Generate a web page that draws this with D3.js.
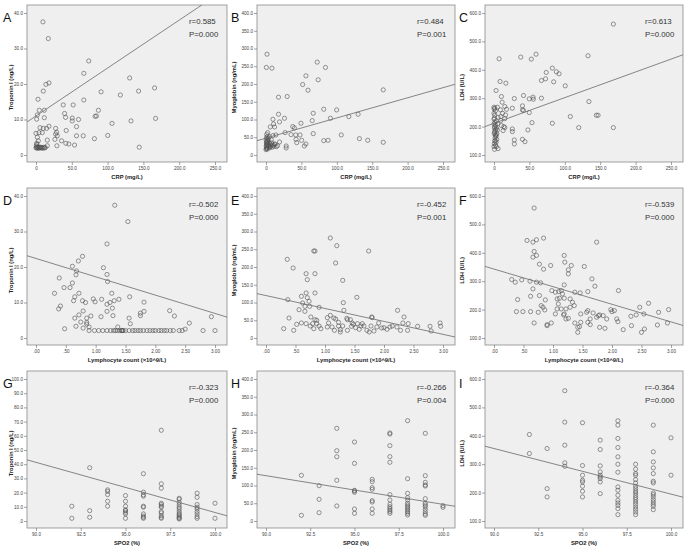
<!DOCTYPE html>
<html>
<head>
<meta charset="utf-8">
<script src="https://cdn.jsdelivr.net/npm/d3@7"></script>
<style>
  body { margin: 0; background: #fff; }
  svg { display: block; font-family: "Liberation Sans", Arial, sans-serif; }
</style>
</head>
<body>
<div id="chart"></div>
<script>
/**
 * DATA
 * */
// CRP vs Troponin I
const crpTrop = [[9.7,37.5],[17.2,32.8],[73.7,26.5],[66.8,23.0],[130.8,21.7],[18.1,20.3],[13.9,19.9],[10.2,18.0],[90.9,17.8],[143.3,18.0],[117.8,16.9],[165.6,18.9],[2.8,15.7],[66.8,15.5],[38.0,14.1],[51.9,14.1],[4.6,12.6],[11.6,12.6],[87.2,12.6],[39.9,11.7],[1.9,11.3],[0.9,10.1],[11.6,10.5],[41.3,10.6],[50.6,10.4],[50.6,9.6],[59.4,10.0],[82.6,10.9],[84.4,11.0],[167,10.3],[106.2,8.9],[132.7,9.6],[5.6,7.7],[10.2,7.5],[14.8,7.5],[18.1,8.1],[56.6,8.0],[27.4,7.5],[0,6.1],[4.2,6.3],[8.8,6.3],[42.2,6.9],[28.8,6.4],[29.7,5.4],[27.4,5.9],[56.6,5.4],[65.9,5.4],[100.2,5.5],[3.2,4.0],[15.8,4.2],[26.4,4.4],[35.7,4.0],[41.7,3.3],[45.9,3.1],[81.6,4.6],[15.8,2.6],[29.2,2.6],[53.8,2.8],[144.2,2.2],[1,3.3],[1.9,5.0],[0,2.0],[0.8,2.2],[1.5,1.9],[2.2,2.3],[3,2.0],[3.8,2.2],[4.6,1.9],[5.5,2.1],[6.5,2.2],[7.4,2.0],[8.5,2.1],[9.6,1.9],[10.8,2.2],[12,2.0],[13,2.1],[0.4,2.6],[1.2,3.0]];
// CRP vs Myoglobin
const crpMyo = [[1.4,284],[0.5,246.6],[8.4,244.7],[72.3,261.6],[84,246.6],[56.4,223],[73.7,211.8],[51.8,198.6],[59.3,182.6],[165.6,183.5],[17.7,162.8],[29.9,164.7],[81.6,128.9],[99.8,127],[66.7,117.6],[17.7,114.8],[130.1,114.8],[26.1,103.5],[9.8,100.7],[91,103.5],[117,108.2],[19.1,93.2],[65.3,96.9],[10.7,87.5],[49.4,89.4],[6.1,79],[12.1,79],[37.8,80],[40.1,76.2],[27,63.1],[66.7,60.2],[2.3,63],[35.4,57.4],[42,56.5],[48,56.5],[106.3,56.5],[4.7,51.8],[9.8,54.6],[14,56.5],[2.8,47],[132,46.1],[42.4,44.2],[7.5,42.4],[81.6,40.5],[87.7,41.4],[50.4,41.4],[143.7,41.4],[165.6,35.8],[43.4,34.8],[56.4,31.1],[19.1,36.7],[13,31],[16.3,26.4],[28.5,25.4],[28.5,19.8],[54.1,25.4],[6.1,22.6],[14.5,23.5],[0,15],[0.5,18],[1,20],[1.5,22],[0.3,25],[0.8,27],[1.2,30],[2,32],[0.5,34],[1,36],[1.5,38],[2.5,40],[0.2,42],[3,44],[3.5,28],[4,24],[5,20],[6,30],[7,26],[8,34],[9,22],[10,28],[11,25],[12,30],[2,17],[4.5,35],[0.6,48],[1.8,52],[1,58]];
// CRP vs LDH
const crpLdh = [[168.6,561],[132.7,449.4],[59.4,455],[37.8,444.7],[7.2,438.8],[52.7,437.6],[82.4,405.9],[73.8,390.6],[88.1,393],[91.9,385.9],[8.6,358.8],[16.8,352.9],[67,362.4],[72.8,368.2],[84.3,357.6],[100.6,343.5],[2.9,327],[10.5,305.9],[41.7,309.4],[55.1,303.5],[28.7,298.8],[67,300],[49.8,297.6],[55.6,296.5],[134.1,288.2],[11.5,285.9],[0,268.2],[4.8,268.2],[25.9,264.7],[15.3,270.6],[17.7,261],[40.2,272.9],[40.2,258.8],[41.7,256.5],[0,247],[9.1,258.8],[12,247],[16.3,241],[49.8,249.4],[107.8,235.3],[144.6,240],[147,240],[0,225.9],[5.7,232.9],[9.6,235.3],[15.3,228.2],[9.6,221.2],[53.6,214],[82.4,211.8],[10.5,203.5],[13.9,200],[15.3,196.5],[25.9,191.8],[47.9,188.2],[119.7,196.5],[168.6,196.5],[4.8,188.2],[12.9,185.9],[25.9,182.4],[40.2,155.3],[28.7,152.9],[43.7,147],[28.7,138.8],[3.4,129.4],[5.7,122.4],[0,130],[0.5,140],[1,150],[1.5,160],[2,170],[0.3,175],[0.8,180],[1.3,185],[2.5,190],[0.5,195],[1,200],[2,205],[0,210],[1.5,215],[3,220],[0.5,230],[1,240],[2,255],[0.2,262],[1.2,265],[3,145],[4,155],[2.5,165],[4,175],[3.5,195],[5,210],[0.7,120],[2.2,135],[1.8,150],[3.2,170]];
// Lymphocyte count vs Troponin I
const lymTrop = [[1.32,37.4],[1.54,32.8],[1.19,26.5],[0.78,23.0],[0.71,21.7],[0.61,20.2],[0.68,18.9],[1.13,19.8],[0.67,17.8],[1.19,17.9],[1.2,15.9],[0.39,16.9],[0.61,15.5],[0.47,14.2],[0.57,14.2],[0.31,12.6],[0.72,12.6],[1.27,12.6],[1.57,11.6],[0.65,11.6],[0.63,10.5],[0.96,11],[1.1,10.9],[0.99,10.2],[1.24,10],[1.31,10.5],[1.39,10.9],[0.83,10],[0.78,10.5],[0.41,9],[0.38,8.2],[1.19,9.5],[1.28,8.4],[0.79,7.6],[1.19,7.5],[1.81,10.1],[1.81,7.5],[2.24,7.7],[0.92,6.2],[0.72,6.5],[1.29,6.3],[1.75,7],[1.75,6.3],[2.32,6.2],[1.09,6],[2.94,6],[0.85,5.6],[0.65,5.6],[1.56,5.6],[0.75,4.5],[0.85,4.4],[0.85,3.9],[1.58,4],[2.57,4.2],[0.67,3.3],[1.37,3.1],[0.48,2.6],[0.89,3.1],[0.79,2.8],[2.5,2.5],[0.89,2.1],[0.98,2.1],[1.05,2.1],[1.12,2.1],[1.19,2.1],[1.25,2.1],[1.3,2.1],[1.33,2.1],[1.36,2.1],[1.4,2.1],[1.43,2.1],[1.44,2.1],[1.45,2.1],[1.46,2.1],[1.5,2.1],[1.56,2.1],[1.62,2.1],[1.66,2.1],[1.71,2.1],[1.75,2.1],[1.8,2.1],[1.86,2.1],[1.91,2.1],[1.96,2.1],[2.0,2.1],[2.06,2.1],[2.1,2.1],[2.15,2.1],[2.19,2.1],[2.25,2.1],[2.3,2.1],[2.4,2.1],[2.45,2.1],[2.8,2.1],[3.0,2.1]];
// Lymphocyte count vs Myoglobin
const lymMyo = [[1.09,281.7],[1.2,260],[0.81,245],[0.83,245],[1.74,245],[0.36,221.6],[1.18,211.3],[0.46,197.2],[0.68,181.2],[0.83,181.2],[0.7,164.3],[1.3,162.4],[0.68,126.8],[0.83,126.8],[0.6,117.4],[0.7,113.6],[1.54,114.6],[0.37,108],[0.73,103.3],[1.31,99.5],[0.62,98.6],[0.66,89.2],[0.74,89.2],[0.9,86.4],[0.56,79.8],[1.32,77.9],[2.23,77.9],[0.66,75.1],[0.39,56.3],[0.76,59.2],[1.04,57.3],[1.09,63.8],[1.15,56.3],[1.18,53.5],[1.37,55.4],[1.38,51.6],[2.34,59.2],[1.79,59.2],[1.8,57.3],[0.83,51.6],[0.86,49.8],[1.23,44.1],[1.06,42.3],[0.6,42.3],[0.68,40.4],[0.79,40.4],[0.86,40.4],[0.52,38.5],[1.55,40.4],[1.63,40.4],[1.91,42.3],[2.32,42.3],[2.41,40.4],[1.48,38.5],[1.45,32.9],[1.23,33.8],[0.75,33.8],[0.9,33.8],[1.04,31],[1.12,31],[1.3,33.8],[1.61,33.8],[1.78,33.8],[1.52,29.1],[1.66,33.8],[1.88,31],[1.96,28.2],[2.0,29.1],[2.1,31],[2.14,33.8],[2.22,31],[2.57,32.9],[2.78,32.9],[2.95,42.3],[2.96,32.9],[0.3,26.3],[0.81,26.3],[0.93,26.3],[0.47,21.6],[1.16,21.6],[1.26,23.5],[1.26,16.9],[1.38,21.6],[1.58,24.4],[1.71,21.6],[1.75,16.9],[1.83,19.7],[2.05,24.4],[2.28,21.6],[2.4,21.6],[2.8,19.7],[1.46,42.3],[1.43,51.6]];
// Lymphocyte count vs LDH
const lymLdh = [[0.68,557.6],[0.56,443.5],[0.66,437.6],[0.72,445.9],[0.84,451.8],[1.74,437.6],[0.68,404.7],[0.72,390.6],[0.66,384.7],[1.19,390.6],[0.77,360],[0.96,355.3],[1.31,355.3],[1.2,367],[0.84,342.4],[1.26,340],[1.26,325.9],[1.53,351.8],[1.66,308.2],[1.71,282.4],[0.3,305.9],[0.36,296.5],[0.47,304.7],[0.61,300],[0.72,296.5],[0.79,294.1],[1.19,287],[0.66,272.9],[0.98,267],[1.14,267],[1.04,261.2],[1.1,263.5],[1.37,261.2],[1.46,258.8],[1.59,263.5],[2.11,267],[1.16,255.3],[1.19,240],[1.11,240],[1.07,237.6],[1.29,237.6],[0.4,235.3],[0.77,249.4],[0.62,247],[0.87,234.1],[1.09,220],[0.8,214.1],[0.83,208.2],[1.33,225.9],[1.36,214.1],[1.57,190.6],[1.59,196.5],[1.22,202.4],[1.07,202.4],[1.14,202.4],[1.29,208.2],[1.47,184.7],[1.68,188.2],[0.86,198.8],[0.38,192.9],[0.49,192.9],[0.62,192.9],[0.75,190.6],[1.04,184.7],[1.19,184.7],[1.18,181.2],[1.22,167],[1.26,169.4],[1.63,167],[1.74,172.9],[1.77,178.8],[1.79,181.2],[1.85,178.8],[1.91,167],[1.98,200],[2.0,192.9],[2.04,196.5],[2.08,167],[2.1,157.6],[2.47,208.2],[2.62,222.4],[2.54,184.7],[2.41,181.2],[2.32,176.5],[2.79,190.6],[2.96,200],[2.77,145.9],[2.94,152.9],[2.55,131.8],[2.5,120],[2.19,129.4],[2.33,143.5],[1.59,155.3],[1.63,147],[1.79,137.6],[1.47,155.3],[1.37,152.9],[1.42,137.6],[1.45,140],[1.42,120],[0.97,152.9],[0.9,147],[0.9,143.5],[0.68,152.9],[1.88,134.1]];
// SPO2 vs Troponin I
const spoTrop = [[92,10.4],[92,1.9],[93,37.5],[93,7.3],[93,2.6],[94,21.9],[94,18.6],[94,13.9],[94,10.4],[94,20.8],[95,17.9],[95,13.9],[95,10.4],[95,7.3],[95,6.1],[95,5],[95,1.9],[95,7.8],[96,33.3],[96,20.3],[96,18.4],[96,17.5],[96,10.4],[96,9.7],[96,5],[96,3.5],[96,2.6],[96,1.9],[97,63.9],[97,26.2],[97,23.1],[97,12.5],[97,11.6],[97,10.4],[97,9.7],[97,6.6],[97,5.7],[97,3.8],[97,2.6],[97,1.9],[98,16],[98,15.3],[98,11.3],[98,9.7],[98,8.5],[98,6.8],[98,5.4],[98,4.5],[98,3.5],[98,2.6],[98,1.9],[98,1.4],[98,13],[99,19.6],[99,16.7],[99,11.6],[99,9.7],[99,8.5],[99,6.6],[99,5],[99,3.1],[99,1.9],[100,12.5],[100,1.9]];
// SPO2 vs Myoglobin
const spoMyo = [[92,128.6],[92,16],[93,99.5],[93,61],[93,23.5],[94,261],[94,198],[94,181],[94,114.6],[94,42.3],[95,222.5],[95,162.4],[95,86.4],[95,80.8],[95,33.8],[95,21.6],[95,84.5],[96,117.4],[96,110.8],[96,93.9],[96,89.2],[96,57.3],[96,53.5],[96,33.8],[96,21.6],[97,247.9],[97,245],[97,212.2],[97,181.2],[97,165.3],[97,74.2],[97,59.2],[97,47],[97,40.4],[97,35.7],[97,31],[97,26.3],[97,21.6],[98,282.6],[98,119.2],[98,78],[98,65.7],[98,59.2],[98,49.8],[98,45.1],[98,40.4],[98,35.7],[98,31],[98,26.3],[98,21.6],[98,16.9],[99,247],[99,127.7],[99,108.9],[99,101.4],[99,98.6],[99,62.9],[99,49.8],[99,45.1],[99,40.4],[99,32.9],[99,26.3],[99,19.7],[99,16],[100,43.2],[100,38.5]];
// SPO2 vs LDH
const spoLdh = [[92,404.7],[92,337.6],[93,355.3],[93,214.1],[93,184.7],[94,558.8],[94,448.2],[94,367],[94,304.7],[94,292.9],[95,445.9],[95,295.3],[95,261.2],[95,243.5],[95,237.6],[95,222.4],[95,204.7],[95,184.7],[96,384.7],[96,351.8],[96,294.1],[96,272.9],[96,261.2],[96,255.3],[96,249.4],[96,237.6],[96,196.5],[97,452.9],[97,437.6],[97,390.6],[97,358.8],[97,325.9],[97,300],[97,271.8],[97,220],[97,208.2],[97,190.6],[97,172.9],[97,163.5],[97,155.3],[97,143.5],[97,122.4],[98,300],[98,282.4],[98,267],[98,261.2],[98,245.9],[98,234.1],[98,222.4],[98,214.1],[98,205.9],[98,198.8],[98,190.6],[98,182.4],[98,175.3],[98,167],[98,158.8],[98,149.4],[98,141.2],[98,131.8],[98,122.4],[99,437.6],[99,343.5],[99,308.2],[99,287],[99,267],[99,240],[99,234.1],[99,198.8],[99,192.9],[99,184.7],[99,175.3],[99,167],[99,158.8],[99,151.8],[99,140],[100,392.9],[100,261.2]];

// regression lines: [intercept, slope]
const fits = [[11.0,0.135],[47.6,0.568],[211.6,0.904],[22.4,-5.16],[119.5,-36.4],[342.7,-62],[359.0,-3.53],[853.9,-8.07],[1799.7,-16.05]];
const rText = ["r=0.585","r=0.484","r=0.613","r=-0.502","r=-0.452","r=-0.539","r=-0.323","r=-0.266","r=-0.364"];
const pText = ["P=0.000","P=0.001","P=0.000","P=0.000","P=0.001","P=0.000","P=0.000","P=0.004","P=0.000"];
const letters = ["A","B","C","D","E","F","G","H","I"];

// tick values and labels
const crpTicks = [0,50,100,150,200,250];
const crpLabels = ["0","50.0","100.0","150.0","200.0","250.0"];
const lymTicks = [0,0.5,1,1.5,2,2.5,3];
const lymLabels = [".00",".50","1.00","1.50","2.00","2.50","3.00"];
const spoTicks = [90,92.5,95,97.5,100];
const spoLabels = ["90.0","92.5","95.0","97.5","100.0"];
const trop40Ticks = [0,10,20,30,40];
const trop40Labels = ["0","10.0","20.0","30.0","40.0"];
const trop100Ticks = [0,10,20,30,40,50,60,70,80,90,100];
const trop100Labels = [".0","10.0","20.0","30.0","40.0","50.0","60.0","70.0","80.0","90.0","100.0"];
const myoTicks = [0,50,100,150,200,250,300,350,400];
const myoLabels = [".0","50.0","100.0","150.0","200.0","250.0","300.0","350.0","400.0"];
const ldhTicks = [100,200,300,400,500,600];
const ldhLabels = ["100.0","200.0","300.0","400.0","500.0","600.0"];

const xTitles = ["CRP (mg/L)", "Lymphocyte count (\u00d710^9/L)", "SPO2 (%)"];
const yTitles = ["Troponin I (ng/L)", "Myoglobin (ng/mL)", "LDH (U/L)"];

/**
 * LAYOUT
 * */
const width = 685, height = 548;
const rowTop = [5, 188, 371], boxH = 157;
const colL = [27, 257, 485], colR = [227, 455, 683], colOff = [0, 228, 456];

const xAxes = [[crpTicks, crpLabels], [lymTicks, lymLabels], [spoTicks, spoLabels]];
const panelData = [crpTrop, crpMyo, crpLdh, lymTrop, lymMyo, lymLdh, spoTrop, spoMyo, spoLdh];
const yAxes = [
  [trop40Ticks, trop40Labels], [myoTicks, myoLabels], [ldhTicks, ldhLabels],
  [trop40Ticks, trop40Labels], [myoTicks, myoLabels], [ldhTicks, ldhLabels],
  [trop100Ticks, trop100Labels], [myoTicks, myoLabels], [ldhTicks, ldhLabels]
];

const svg = d3.select("#chart").append("svg")
  .attr("width", width)
  .attr("height", height);

panelData.forEach((data, i) => {
  const row = Math.floor(i / 3), col = i % 3;
  const L = colL[col], R = colR[col], T = rowTop[row], B = T + boxH;
  const [xt, xl] = xAxes[row];
  const [yt, yl] = yAxes[i];

  const x = d3.scaleLinear().domain([xt[0], xt[xt.length - 1]]).range([L + 9, R - 12]);
  const y = d3.scaleLinear().domain([yt[0], yt[yt.length - 1]]).range([B - 7, T + 8]);

  const g = svg.append("g");

  g.append("rect")
    .attr("x", L).attr("y", T)
    .attr("width", R - L).attr("height", boxH)
    .attr("fill", "#efefef")
    .attr("stroke", "#8a8a8a")
    .attr("stroke-width", 0.8);

  g.append("clipPath").attr("id", "clip" + i)
    .append("rect").attr("x", L).attr("y", T).attr("width", R - L).attr("height", boxH);

  // axes (box edge is the axis line)
  const xa = g.append("g")
    .attr("transform", `translate(0,${B})`)
    .call(d3.axisBottom(x).tickValues(xt).tickFormat((d, k) => xl[k]).tickSize(3).tickPadding(1.5));
  const ya = g.append("g")
    .attr("transform", `translate(${L},0)`)
    .call(d3.axisLeft(y).tickValues(yt).tickFormat((d, k) => yl[k]).tickSize(3).tickPadding(1));
  [xa, ya].forEach(a => {
    a.select(".domain").remove();
    a.selectAll(".tick line").attr("stroke", "#666").attr("stroke-width", 0.6);
    a.selectAll(".tick text")
      .attr("fill", "#444")
      .style("font-size", "4.6px")
      .style("font-family", "'Liberation Sans', Arial, sans-serif");
  });

  // points
  g.append("g").attr("clip-path", `url(#clip${i})`)
    .selectAll("circle")
    .data(data)
    .join("circle")
    .attr("cx", d => x(d[0]))
    .attr("cy", d => y(d[1]))
    .attr("r", 2.1)
    .attr("fill", "none")
    .attr("stroke", "#505050")
    .attr("stroke-width", 0.6);

  // fit line across the box
  const [a, b] = fits[i];
  const x0 = x.invert(L), x1 = x.invert(R);
  g.append("line")
    .attr("clip-path", `url(#clip${i})`)
    .attr("x1", x(x0)).attr("y1", y(a + b * x0))
    .attr("x2", x(x1)).attr("y2", y(a + b * x1))
    .attr("stroke", "#6a6a6a")
    .attr("stroke-width", 0.8);

  // titles
  g.append("text")
    .attr("x", (L + R) / 2).attr("y", B + 17)
    .attr("text-anchor", "middle")
    .attr("font-weight", "bold")
    .attr("font-size", 5.8)
    .attr("fill", "#222")
    .text(xTitles[row]);

  const ty = (T + B) / 2 + 4, tx = col === 0 ? L - 14 : L - 21;
  g.append("text")
    .attr("transform", `translate(${tx},${ty}) rotate(-90)`)
    .attr("text-anchor", "middle")
    .attr("font-weight", "bold")
    .attr("font-size", 5.8)
    .attr("fill", "#222")
    .text(yTitles[col]);

  g.append("text")
    .attr("x", colOff[col] + 3).attr("y", T + 17)
    .attr("font-size", 12.5)
    .attr("fill", "#111")
    .text(letters[i]);

  g.append("text")
    .attr("x", R - 38).attr("y", T + 19)
    .attr("font-size", 7.8)
    .attr("fill", "#333")
    .text(rText[i]);
  g.append("text")
    .attr("x", R - 38).attr("y", T + 32)
    .attr("font-size", 7.8)
    .attr("fill", "#333")
    .text(pText[i]);
});
</script>
</body>
</html>
